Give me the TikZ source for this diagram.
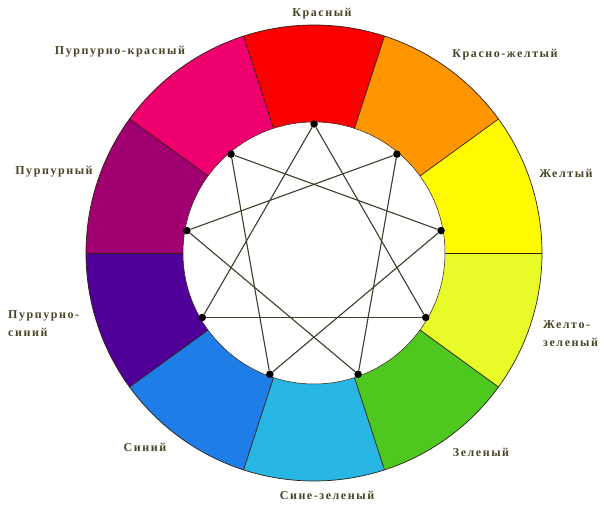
\documentclass[tikz,border=0pt]{standalone}
\usepackage{fontspec}
\setmainfont{Liberation Serif}
\newfontfamily\lblfont[LetterSpace=13]{Liberation Serif}
\usetikzlibrary{calc}
\definecolor{cRed}{RGB}{250,0,0}
\definecolor{cOrange}{RGB}{255,150,0}
\definecolor{cYellow}{RGB}{255,250,0}
\definecolor{cYG}{RGB}{232,250,40}
\definecolor{cGreen}{RGB}{78,200,30}
\definecolor{cCyan}{RGB}{40,182,228}
\definecolor{cBlue}{RGB}{30,125,230}
\definecolor{cViolet}{RGB}{80,0,152}
\definecolor{cPurple}{RGB}{160,0,112}
\definecolor{cMagenta}{RGB}{240,0,110}
\definecolor{lblcol}{RGB}{72,68,38}
\definecolor{edgecol}{RGB}{45,30,22}
\definecolor{starcol}{RGB}{62,60,42}
\tikzset{
  segline/.style={draw=edgecol, line width=0.7pt},
  starline/.style={draw=starcol, line width=1.1pt},
  dotnode/.style={circle, fill=black, inner sep=0pt, minimum size=7.5pt},
  lbl/.style={font=\lblfont\bfseries\fontsize{12}{18}\selectfont, text=lblcol, inner sep=0pt},
}
\begin{document}
\begin{tikzpicture}[x=1pt,y=1pt]
\useasboundingbox (0,0) rectangle (604,511);
\fill[white] (0,0) rectangle (604,511);
\coordinate (C) at (314,258);
\def\Ro{228}
\def\Ri{131}
% colour segments
\foreach \a/\c in {90/cRed,54/cOrange,18/cYellow,-18/cYG,-54/cGreen,-90/cCyan,-126/cBlue,-162/cViolet,162/cPurple,126/cMagenta}{
  \fill[\c] (C) -- ++(\a-18:\Ro) arc[start angle=\a-18, end angle=\a+18, radius=\Ro] -- cycle;
}
\foreach \b in {0,36,...,324}{
  \draw[segline] ($(C)+(\b:\Ri)$) -- ($(C)+(\b:\Ro)$);
}
\draw[segline] (C) circle[radius=\Ro];
\fill[white] (C) circle[radius=\Ri];
\draw[segline, line width=0.5pt] (C) circle[radius=\Ri];
% dots
\foreach \i/\a in {0/90,1/50,2/10,3/-30,4/-70,5/-110,6/-150,7/170,8/130}{
  \node[dotnode] (p\i) at ($(C)+(\a:129)$) {};
}
% three triangles
\draw[starline] (p0) -- (p3);
\draw[starline] (p3) -- (p6);
\draw[starline] (p6) -- (p0);
\draw[starline] (p1) -- (p4);
\draw[starline] (p4) -- (p7);
\draw[starline] (p7) -- (p1);
\draw[starline] (p2) -- (p5);
\draw[starline] (p5) -- (p8);
\draw[starline] (p8) -- (p2);
% labels
\node[lbl] (lRed) at (322,497) {Красный};
\node[lbl] (lMag) at (120,459) {Пурпурно-красный};
\node[lbl] (lOr) at (505,456) {Красно-желтый};
\node[lbl] (lPur) at (54,339) {Пурпурный};
\node[lbl] (lYel) at (566,338) {Желтый};
\node[lbl, anchor=west, align=left] (lVio) at (8,187.5) {Пурпурно-\\синий};
\node[lbl, anchor=west, align=left] (lYG) at (543,177.5) {Желто-\\зеленый};
\node[lbl] (lBlue) at (145,64) {Синий};
\node[lbl] (lGreen) at (481,59) {Зеленый};
\node[lbl] (lCyan) at (327,16) {Сине-зеленый};
\end{tikzpicture}
\end{document}
